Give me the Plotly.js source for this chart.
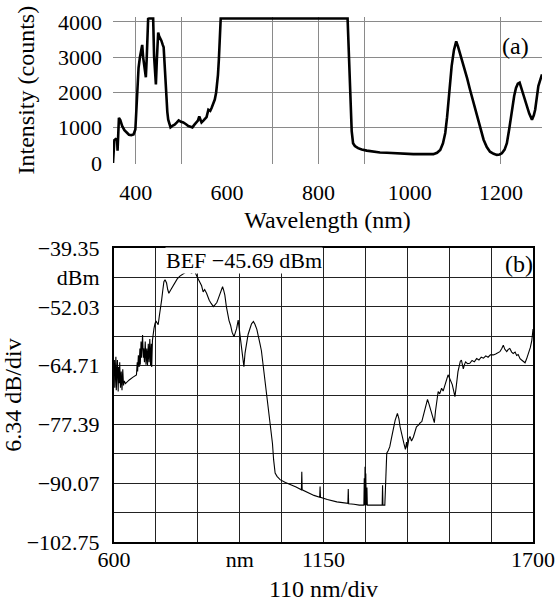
<!DOCTYPE html>
<html>
<head>
<meta charset="utf-8">
<script src="https://cdn.plot.ly/plotly-3.0.1.min.js"></script>
<style>html,body{margin:0;padding:0;background:#fff}#chart{width:555px;height:602px}</style>
</head>
<body>
<div id="chart"></div>
<script>
// ---------- Panel (a): spectrometer intensity ----------
const a_wavelength = [350,351,353,356,359,360,361,363,366,370,375,380,385,390,395,399,401,403,406,409,411,414,416,418,420,422,424,426,427,429,433,438,440,442,444,446,449,451,453,456,459,461,464,467,469,471,474,476,480,485,490,494,499,504,510,515,520,524,528,533,536,539,542,544,548,551,555,559,563,566,570,573,576,578,580,582,584,586,864,866,867,869,870.5,873,876,880,887,895,906,920,935,950,972,990,1008,1030,1052,1060,1067,1073,1078,1082,1085,1089,1092,1097,1102,1106,1110,1115,1121,1126,1132,1140,1147,1155,1162,1169,1176,1184,1191,1197,1202,1208,1213,1218,1224,1229,1233,1237,1241,1244,1248,1252,1257,1262,1268,1272,1275,1279,1282,1286,1290];
const a_counts = [0,200,650,680,660,350,900,1280,1220,1050,930,850,800,790,810,950,1400,2200,2700,3000,3150,3350,3000,2750,2550,2430,3000,3700,4090,4100,4100,4100,3030,2500,2230,2900,3700,3600,3550,3470,3350,3280,2600,1800,1450,1230,1080,1010,1050,1085,1150,1210,1170,1150,1100,1050,1030,1010,1080,1170,1200,1320,1220,1150,1200,1240,1300,1510,1480,1560,1680,1800,2000,2180,2500,2940,3600,4100,4100,3300,2750,1900,1420,900,560,480,420,380,350,320,295,290,270,260,250,250,250,290,370,560,850,1300,1800,2300,2750,3200,3450,3300,3130,2900,2660,2400,2090,1700,1320,950,660,450,320,260,230,240,275,380,560,950,1510,1900,2130,2250,2280,2150,2040,1850,1610,1400,1230,1350,1510,1900,2180,2350,2510];
const a_xticks = [400,600,800,1000,1200];
const a_xgrid = [400,500,700,800,900,1200];
const a_yticks = [0,1000,2000,3000,4000];
const a_ygrid = [1000,2000,3000,4000];

// ---------- Panel (b): optical spectrum analyser ----------
const b_wavelength = [600,601,602,603,604,605,606,607,608,609,611,612,614,615,617,619,621,623,625,627,630,633,640,650,659,661,662,664,666,668,669,671,672,674,675,677,678,680,682,684,686,688,690,692,694,696,698,699,701,705,708,711,716,719,721,725,728,731,734,738,741,744,748,751,755,760,766,773,780,786,790,795,800,804,808,813,819,826,830,834,838,843,847,850,855,861,865,870,874,878,882,885,888,891,895,898,902,906,910,915,918,922,926,929,932,937,941,944,948,952,957,961,966,970,975,979,983,987,990,993,996,1000,1003,1006,1009,1012,1014,1016,1019,1021,1023,1028,1036,1050,1062,1078,1092,1093,1094,1110,1125,1140,1141,1142,1160,1185,1200,1214,1215,1216,1230,1244,1256,1257,1258,1259,1260,1261,1262,1264,1265,1275,1290,1304,1305,1306,1311,1313,1316,1320,1324,1328,1333,1338,1344,1348,1351,1356,1361,1365,1368,1370,1374,1377,1381,1386,1390,1394,1400,1404,1408,1412,1416,1420,1423,1427,1431,1436,1441,1444,1447,1451,1455,1460,1464,1469,1473,1477,1481,1484,1488,1491,1495,1498,1500,1503,1506,1509,1512,1515,1517,1520,1523,1528,1534,1540,1546,1552,1558,1564,1570,1576,1582,1588,1596,1602,1608,1613,1618,1622,1626,1631,1635,1639,1644,1648,1653,1657,1661,1666,1670,1675,1679,1683,1688,1693,1697,1699,1700];
const b_power = [-67,-63.5,-69.5,-63,-68,-62.8,-70,-64.5,-69,-63.5,-70.3,-65,-68.5,-64,-69.5,-66,-70,-65.5,-69,-68,-68.6,-68.3,-67.8,-67.2,-66.7,-64,-66,-62.5,-65,-61,-64.5,-59.5,-63,-60,-58.1,-63,-61,-64,-59.5,-64.5,-61,-64.7,-60,-64,-59,-64.7,-60,-65,-59.2,-56.7,-55.5,-55.2,-55.9,-54,-53.1,-50.6,-48.5,-46.6,-46.2,-46.9,-48.3,-49.1,-48.5,-48.1,-47.3,-46.6,-46.0,-45.4,-45.0,-44.7,-44.5,-44.2,-44.6,-44.8,-44.3,-44.6,-45.7,-46.9,-47.5,-48.8,-48.3,-49.1,-50.0,-50.6,-51.3,-52.0,-51.6,-51.1,-50.2,-49.1,-48.2,-47.7,-48.5,-49.5,-52.0,-53.8,-55.0,-56.0,-57.5,-58.5,-57.6,-56.7,-54.9,-57.0,-59.2,-62.0,-64.95,-62.0,-59.9,-58.0,-56.7,-55.7,-55.2,-55.8,-56.9,-58.2,-59.9,-61.5,-63.5,-65.5,-67.8,-70.5,-72.8,-74.5,-76.4,-78.3,-79.3,-81.5,-85.0,-87.6,-87.9,-88.6,-89.3,-89.9,-90.3,-90.9,-91.5,-87.6,-91.5,-92.2,-92.7,-93.1,-90.8,-93.1,-93.6,-94.1,-94.3,-94.4,-91.3,-94.5,-94.6,-94.8,-94.8,-89,-94.8,-86.5,-94.8,-88,-94.8,-91,-94.8,-94.8,-94.8,-94.8,-90.5,-94.8,-94.8,-89.5,-83.6,-83,-82.2,-80.5,-78.6,-76.5,-75.0,-76.2,-77.9,-80.0,-81.5,-82.8,-81.2,-82.5,-80.5,-80.0,-81.0,-80.1,-79.0,-77.9,-77.5,-77.0,-76.8,-75.5,-74.3,-73.0,-72.0,-73.0,-74.3,-76.0,-77.0,-74.5,-72.1,-70.3,-70.8,-69.6,-70.2,-68.5,-67.8,-66.7,-67.5,-67.8,-68.8,-69.9,-71.4,-69.5,-67.8,-66.0,-64.95,-63.8,-63.5,-64.8,-65.4,-64.5,-63.9,-64.3,-64.2,-63.6,-63.9,-63.2,-63.5,-62.9,-63.1,-62.6,-62.9,-62.4,-62.4,-62.2,-61.9,-61.7,-61.0,-60.3,-61.2,-61.7,-61.2,-61.0,-61.8,-62.1,-61.8,-62.5,-62.3,-63.2,-63.5,-63.9,-64.1,-63.3,-62.1,-60.8,-59.2,-57.0,-56.8];
const b_xtickvals = [600,710,820,930,1040,1150,1260,1370,1480,1590,1700];
const b_xticktext = ["600","","","nm","","1150","","","","","1700"];
const b_ytickvals = [-102.75,-96.41,-90.07,-83.73,-77.39,-71.05,-64.71,-58.37,-52.03,-45.69,-39.35];
const b_yticktext = ["\u2212102.75","","\u221290.07","","\u221277.39","","\u221264.71","","\u221252.03","dBm","\u221239.35"];

const FONT = "Liberation Serif, Times New Roman, serif";
const F = {family: FONT, size: 22, color: '#000'};
const FT = {family: FONT, size: 24, color: '#000'};

const traces = [
  {x: a_wavelength, y: a_counts, xaxis: 'x', yaxis: 'y', type: 'scatter', mode: 'lines',
   line: {color: '#000', width: 2.6}, hoverinfo: 'skip'},
  {x: b_wavelength, y: b_power, xaxis: 'x2', yaxis: 'y2', type: 'scatter', mode: 'lines',
   line: {color: '#000', width: 1.1}, hoverinfo: 'skip'}
];

const layout = {
  width: 555, height: 602,
  margin: {l: 0, r: 0, t: 0, b: 0},
  paper_bgcolor: '#fff', plot_bgcolor: '#fff',
  showlegend: false,
  font: F,
  xaxis: {
    domain: [0.2036, 0.9766], anchor: 'y', range: [350, 1290],
    tickmode: 'array', tickvals: a_xticks, ticks: '', showgrid: false, tickfont: F,
    minor: {tickmode: 'array', tickvals: a_xgrid, showgrid: true, gridcolor: '#8a8a8a', gridwidth: 1, ticks: ''},
    zeroline: false, showline: false, ticklabelstandoff: 13,
    title: {text: 'Wavelength (nm)', standoff: 7, font: FT}
  },
  yaxis: {
    domain: [0.7281, 0.9723], anchor: 'x', range: [-20, 4150],
    tickmode: 'array', tickvals: a_yticks, ticks: '', showgrid: false, tickfont: F,
    minor: {tickmode: 'array', tickvals: a_ygrid, showgrid: true, gridcolor: '#8a8a8a', gridwidth: 1, ticks: ''},
    zeroline: false, showline: false, ticklabelstandoff: 10,
    title: {text: 'Intensity (counts)', standoff: 16, font: FT}
  },
  xaxis2: {
    domain: [0.2054, 0.9604], anchor: 'y2', range: [600, 1700],
    tickmode: 'array', tickvals: b_xtickvals, ticktext: b_xticktext, ticks: '', tickfont: F,
    ticklabeloverflow: 'allow',
    showgrid: true, gridcolor: '#222', gridwidth: 1,
    zeroline: false, showline: true, mirror: true, linecolor: '#000', linewidth: 2,
    ticklabelstandoff: -3,
    title: {text: '110 nm/div', standoff: 10, font: FT}
  },
  yaxis2: {
    domain: [0.0997, 0.5880], anchor: 'x2', range: [-102.75, -39.35],
    tickmode: 'array', tickvals: b_ytickvals, ticktext: b_yticktext, ticks: '', tickfont: F,
    showgrid: true, gridcolor: '#222', gridwidth: 1,
    zeroline: false, showline: true, mirror: true, linecolor: '#000', linewidth: 2,
    ticklabelstandoff: 8,
    title: {text: '6.34 dB/div', standoff: 0, font: FT}
  },
  annotations: [
    {text: '(a)', xref: 'paper', yref: 'paper', x: 0.9297, y: 0.9236, showarrow: false,
     xanchor: 'center', yanchor: 'middle', font: FT},
    {text: '(b)', xref: 'paper', yref: 'paper', x: 0.935, y: 0.5615, showarrow: false,
     xanchor: 'center', yanchor: 'middle', font: FT},
    {text: 'BEF \u221245.69 dBm', xref: 'paper', yref: 'paper', x: 0.2973, y: 0.568, showarrow: false,
     xanchor: 'left', yanchor: 'middle', bgcolor: '#fff', borderpad: 0, font: F}
  ]
};

Plotly.newPlot('chart', traces, layout, {staticPlot: true, displayModeBar: false});
</script>
</body>
</html>
